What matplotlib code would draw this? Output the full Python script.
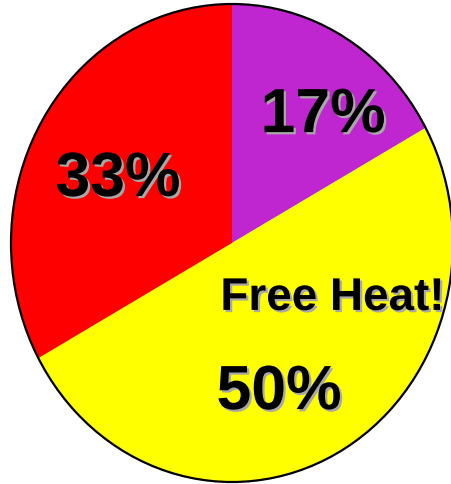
import matplotlib
matplotlib.use("Agg")
from matplotlib import pyplot as plt
from matplotlib import patheffects
from matplotlib.patches import Ellipse

# slice shares, clockwise from twelve o'clock
shares = [17, 50, 33]
slice_colours = ["#c026d0", "#ffff00", "#ff0000"]

# label text and where it sits (data coords, pie radius = 1)
label_pos = [(0.412, 0.464), (0.213, -0.695), (-0.516, 0.197)]
caption = "Free Heat!"
caption_pos = (0.455, -0.280)

plt.rcParams["font.family"] = ["Liberation Sans", "DejaVu Sans"]

fig = plt.figure(figsize=(4.51, 4.85), dpi=100)
fig.patch.set_facecolor("white")
ax = fig.add_axes([11 / 451, 2 / 485, 442 / 451, 478 / 485])

ax.pie(shares, colors=slice_colours, startangle=90, counterclock=False,
       wedgeprops=dict(linewidth=0))
# stretched pie: let the axes box decide the shape
ax.set_aspect("auto")
ax.set_xlim(-1, 1)
ax.set_ylim(-1, 1)
ax.axis("off")

# black rim around the whole pie only
ax.add_patch(Ellipse((0, 0), 2, 2, fill=False, edgecolor="black",
                     linewidth=1.6, zorder=3, clip_on=False))

shadow = [patheffects.withSimplePatchShadow(offset=(1.6, -1.6),
                                            shadow_rgbFace="#a8a8a8",
                                            alpha=1.0)]

for v, (x, y) in zip(shares, label_pos):
    ax.text(x, y, f"{v}%", ha="center", va="baseline", fontsize=45,
            fontweight="bold", color="black", path_effects=shadow, zorder=4)

ax.text(caption_pos[0], caption_pos[1], caption, ha="center", va="baseline",
        fontsize=33, fontweight="bold", color="black", path_effects=shadow,
        zorder=4)

fig.savefig("out.png", dpi=100, facecolor="white")
